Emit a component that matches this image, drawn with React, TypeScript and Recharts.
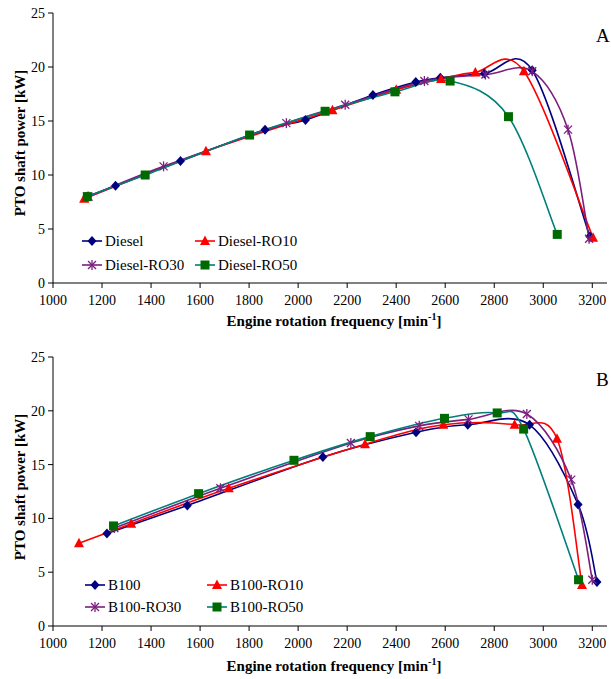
import { LineChart, Line, XAxis, YAxis, Label } from 'recharts'

// ---- panel A ----
const dieselRpm = [1140, 1255, 1520, 1865, 2030, 2305, 2480, 2580, 2760, 2955, 3190]
const dieselKw = [8.0, 9.0, 11.3, 14.2, 15.1, 17.4, 18.6, 19.0, 19.4, 19.7, 4.3]
const ro10Rpm = [1127, 1624, 2140, 2400, 2583, 2723, 2921, 3203]
const ro10Kw = [7.8, 12.2, 16.0, 17.9, 18.9, 19.5, 19.6, 4.2]
const ro30Rpm = [1145, 1451, 1952, 2192, 2515, 2764, 2955, 3101, 3187]
const ro30Kw = [8.0, 10.8, 14.8, 16.5, 18.7, 19.3, 19.6, 14.2, 4.1]
const ro50Rpm = [1140, 1376, 1802, 2110, 2395, 2620, 2858, 3057]
const ro50Kw = [8.0, 10.0, 13.7, 15.9, 17.7, 18.7, 15.4, 4.5]

// ---- panel B ----
const b100Rpm = [1220, 1548, 2101, 2481, 2692, 2944, 3142, 3219]
const b100Kw = [8.6, 11.2, 15.7, 18.0, 18.7, 18.7, 11.3, 4.1]
const b10Rpm = [1106, 1319, 1717, 2273, 2592, 2883, 3056, 3158]
const b10Kw = [7.7, 9.5, 12.8, 16.9, 18.7, 18.7, 17.4, 3.8]
const b30Rpm = [1250, 1683, 2215, 2494, 2695, 2933, 3114, 3200]
const b30Kw = [9.1, 12.8, 17.0, 18.6, 19.2, 19.7, 13.6, 4.3]
const b50Rpm = [1247, 1594, 1983, 2294, 2597, 2812, 2920, 3144]
const b50Kw = [9.3, 12.3, 15.4, 17.6, 19.3, 19.8, 18.3, 4.3]

const xTicks = [1000, 1200, 1400, 1600, 1800, 2000, 2200, 2400, 2600, 2800, 3000, 3200]
const yTicks = [0, 5, 10, 15, 20, 25]

const zip = (xs: number[], ys: number[]) => xs.map((x, i) => ({ x, y: ys[i] }))

const FONT = 'Liberation Serif, Tinos, Times New Roman, Times, DejaVu Serif, serif'
const NAVY = '#000080'
const RED = '#ff0000'
const PURPLE = '#7b1f7f'
const TEAL = '#007f7a'
const GREEN = '#006a00'

// Excel-like smoothed line (Catmull-Rom through every point)
const smooth = (ctx: any) => {
  let pts: number[][] = []
  return {
    areaStart() {},
    areaEnd() {},
    lineStart() { pts = [] },
    point(x: number, y: number) { pts.push([+x, +y]) },
    lineEnd() {
      if (!pts.length) return
      ctx.moveTo(pts[0][0], pts[0][1])
      const t = 1 / 6
      for (let i = 0; i < pts.length - 1; i++) {
        const p0 = pts[i - 1] || pts[i], p1 = pts[i], p2 = pts[i + 1], p3 = pts[i + 2] || p2
        ctx.bezierCurveTo(
          p1[0] + (p2[0] - p0[0]) * t, p1[1] + (p2[1] - p0[1]) * t,
          p2[0] - (p3[0] - p1[0]) * t, p2[1] - (p3[1] - p1[1]) * t,
          p2[0], p2[1])
      }
    },
  }
}

type Kind = 'diamond' | 'triangle' | 'star' | 'square'

function Marker({ kind, cx, cy }: { kind: Kind; cx: number; cy: number }) {
  if (kind === 'diamond')
    return <polygon points={`${cx},${cy - 5} ${cx + 4.5},${cy} ${cx},${cy + 5} ${cx - 4.5},${cy}`} fill={NAVY} />
  if (kind === 'triangle')
    return <polygon points={`${cx},${cy - 5.5} ${cx + 5},${cy + 4} ${cx - 5},${cy + 4}`} fill={RED} />
  if (kind === 'square')
    return <rect x={cx - 4.5} y={cy - 4.5} width={9} height={9} fill={GREEN} />
  return (
    <g stroke={PURPLE} strokeWidth={1.3}>
      <line x1={cx - 4} y1={cy - 4} x2={cx + 4} y2={cy + 4} />
      <line x1={cx - 4} y1={cy + 4} x2={cx + 4} y2={cy - 4} />
      <line x1={cx} y1={cy - 5} x2={cx} y2={cy + 5} />
    </g>
  )
}

const dotOf = (kind: Kind) => (p: any) => <Marker key={`${kind}-${p.index}`} kind={kind} cx={p.cx} cy={p.cy} />

type Series = { name: string; data: { x: number; y: number }[]; color: string; kind: Kind }

function LegendBox({ items, left, top, col2, rowGap }: { items: Series[]; left: number; top: number; col2: number; rowGap: number }) {
  return (
    <div style={{ position: 'absolute', left, top, fontFamily: FONT, fontSize: 15, color: '#000' }}>
      {items.map((s, i) => (
        <div key={s.name} style={{
          position: 'absolute', left: (i % 2) * col2, top: Math.floor(i / 2) * rowGap,
          display: 'flex', alignItems: 'center', whiteSpace: 'nowrap', height: 18,
        }}>
          <svg width={22} height={14} style={{ marginRight: 2 }}>
            <line x1={1} y1={7} x2={21} y2={7} stroke={s.color} strokeWidth={1.6} />
            <Marker kind={s.kind} cx={11} cy={7} />
          </svg>
          <span>{s.name}</span>
        </div>
      ))}
    </div>
  )
}

function Panel({ series, letter, top, height, mTop, mBottom, titleY }: {
  series: Series[]; letter: string; top: number; height: number; mTop: number; mBottom: number; titleY: number
}) {
  const tick = { fill: '#000', fontSize: 14, fontFamily: FONT }
  return (
    <div style={{ position: 'absolute', left: 0, top, width: 611, height }}>
      <LineChart width={611} height={height} margin={{ top: mTop, right: 4, bottom: mBottom, left: 13 }}>
        <XAxis type="number" dataKey="x" domain={[1000, 3260]} ticks={xTicks} allowDataOverflow
          stroke="#000" tick={tick} tickSize={5} tickMargin={7} height={30}>
          <Label content={() => (
            <text x={334} y={titleY} textAnchor="middle" fontFamily={FONT} fontSize={15} fontWeight="bold" fill="#000">
              Engine rotation frequency [min<tspan dy={-6} fontSize={10}>-1</tspan><tspan dy={6}>]</tspan>
            </text>
          )} />
        </XAxis>
        <YAxis type="number" dataKey="y" domain={[0, 25]} ticks={yTicks} stroke="#000" tick={tick}
          tickSize={5} tickMargin={3} width={40}>
          <Label content={() => (
            <text x={25} y={mTop + 130} transform={`rotate(-90 25 ${mTop + 130})`} textAnchor="middle"
              fontFamily={FONT} fontSize={15} fontWeight="bold" fill="#000">PTO shaft power [kW]</text>
          )} />
        </YAxis>
        {series.map(s => (
          <Line key={s.name} data={s.data} dataKey="y" type={smooth as any} stroke={s.color} strokeWidth={1.6}
            dot={dotOf(s.kind)} activeDot={false} isAnimationActive={false} />
        ))}
      </LineChart>
      <div style={{ position: 'absolute', left: 596, top: mTop + 12, fontFamily: FONT, fontSize: 19 }}>{letter}</div>
    </div>
  )
}

export default function App() {
  const a: Series[] = [
    { name: 'Diesel', data: zip(dieselRpm, dieselKw), color: NAVY, kind: 'diamond' },
    { name: 'Diesel-RO10', data: zip(ro10Rpm, ro10Kw), color: RED, kind: 'triangle' },
    { name: 'Diesel-RO30', data: zip(ro30Rpm, ro30Kw), color: PURPLE, kind: 'star' },
    { name: 'Diesel-RO50', data: zip(ro50Rpm, ro50Kw), color: TEAL, kind: 'square' },
  ]
  const b: Series[] = [
    { name: 'B100', data: zip(b100Rpm, b100Kw), color: NAVY, kind: 'diamond' },
    { name: 'B100-RO10', data: zip(b10Rpm, b10Kw), color: RED, kind: 'triangle' },
    { name: 'B100-RO30', data: zip(b30Rpm, b30Kw), color: PURPLE, kind: 'star' },
    { name: 'B100-RO50', data: zip(b50Rpm, b50Kw), color: TEAL, kind: 'square' },
  ]
  return (
    <div style={{ position: 'absolute', left: 0, top: 0, width: 611, height: 679, background: '#fff' }}>
      <Panel series={a} letter="A" top={0} height={340} mTop={13} mBottom={27} titleY={326} />
      <Panel series={b} letter="B" top={340} height={339} mTop={17} mBottom={23} titleY={331} />
      <LegendBox items={a} left={81} top={232} col2={113} rowGap={24} />
      <LegendBox items={b} left={84} top={576} col2={122} rowGap={22} />
    </div>
  )
}
